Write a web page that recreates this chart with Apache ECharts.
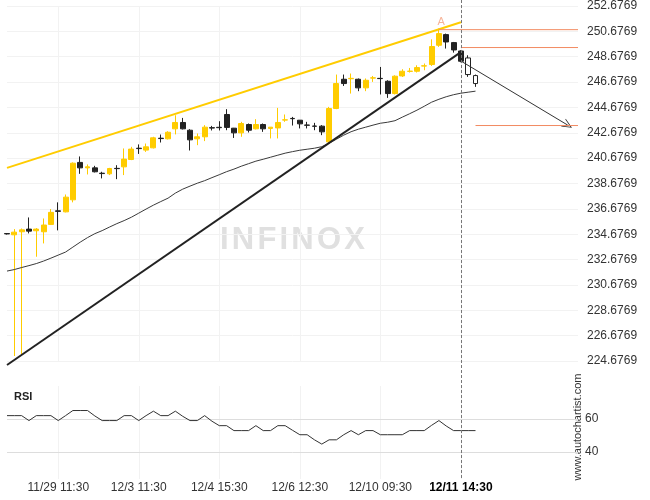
<!DOCTYPE html>
<html>
<head>
<meta charset="utf-8">
<script src="https://cdn.jsdelivr.net/npm/echarts@6/dist/echarts.min.js"></script>
<style>
html,body{margin:0;padding:0;background:#fff;}
#c{width:650px;height:500px;}
</style>
</head>
<body>
<div id="c"></div>
<script>
// ---- tick labels ----
const Y_BASE = 224.6769;            // lowest price tick label
const Y_STEP = 2;                   // price tick step
const Y_TICKS = 14;                 // number of steps up to 252.6769
const xLabelIdx = [7, 18, 29, 40, 51, 62];
const xLabels = ['11/29 11:30', '12/3 11:30', '12/4 15:30', '12/6 12:30', '12/10 09:30', '12/11 14:30'];
const SLOTS = 79;                   // bar slots on the time axis (incl. empty space on the right)

// ---- candles (price) ----
const open = [234.73,234.63,234.87,235.08,234.95,234.87,235.45,236.52,236.44,237.39,240.34,239.91,239.91,239.49,239.44,239.87,239.99,240.57,241.46,241.31,241.49,242.25,242.20,242.99,243.49,242.88,242.20,242.36,243.08,243.11,244.12,243.04,242.67,243.33,242.99,243.33,243.02,243.06,243.68,243.81,243.67,243.29,243.21,243.20,241.96,244.59,246.90,246.94,246.90,246.22,246.99,246.97,246.74,245.77,247.16,247.52,247.53,247.94,248.06,249.58,250.42,249.79,249.13];
const close = [234.70,234.84,235.02,234.92,235.08,235.40,236.40,236.48,237.60,240.28,239.91,239.99,239.60,239.46,239.86,239.85,240.60,241.39,241.43,241.57,242.28,242.22,242.72,243.49,242.99,242.12,242.36,243.12,243.05,243.08,243.10,242.67,243.41,242.88,243.33,242.99,243.12,243.49,243.70,243.79,243.38,243.27,243.19,242.75,244.59,246.56,246.56,246.97,246.22,246.82,247.01,246.95,245.77,247.14,247.53,247.54,247.82,247.96,249.48,250.50,249.84,249.21,248.32];
const low = [234.65,225.07,225.15,234.74,232.90,233.95,235.40,234.98,236.40,237.19,239.44,239.39,239.55,239.08,239.34,239.02,239.34,240.52,241.01,241.17,241.44,241.91,242.15,242.55,242.94,241.28,241.70,242.02,242.86,242.86,242.88,242.27,242.36,242.70,242.94,242.75,242.23,242.23,243.54,243.25,243.02,243.02,242.88,242.49,241.83,244.54,246.37,245.77,245.96,245.96,246.69,245.70,245.43,245.70,247.08,247.43,247.43,247.61,247.95,249.45,249.32,249.00,248.24];
const high = [234.76,235.08,235.13,236.00,235.16,235.92,236.66,237.19,237.81,240.34,240.81,240.18,240.07,239.60,239.91,240.12,241.44,241.57,241.76,241.83,242.36,242.54,242.80,244.06,243.85,242.96,242.62,243.28,243.22,243.59,244.54,243.06,243.54,243.41,243.75,243.41,243.12,244.64,244.12,243.93,243.67,243.54,243.46,243.28,244.72,247.27,247.27,247.35,246.96,246.96,247.16,247.87,246.82,247.21,247.69,247.79,248.00,248.14,250.05,250.90,250.50,249.84,249.19];
// projected (hollow) candles
const projOpen = [248.58, 247.19];
const projClose = [247.27, 246.56];
const projLow = [247.09, 246.30];
const projHigh = [248.79, 247.27];

// ---- moving average ----
const ma = [231.77,231.89,232.05,232.20,232.36,232.56,232.79,233.03,233.27,233.66,234.05,234.41,234.72,234.96,235.24,235.51,235.75,236.02,236.34,236.66,236.97,237.25,237.52,237.92,238.23,238.47,238.70,238.90,239.14,239.37,239.61,239.81,240.04,240.24,240.44,240.59,240.75,240.91,241.07,241.19,241.30,241.38,241.46,241.58,241.86,242.17,242.49,242.76,242.96,243.12,243.28,243.43,243.51,243.63,243.91,244.18,244.46,244.77,245.09,245.32,245.52,245.68,245.80,245.88,245.96];

// ---- RSI ----
const rsi = [62,62,62,59,62,62,62,59,62,65.1,65.1,65.1,61.8,59,59,59,62,62,59,62,64.7,62,62,64.7,61.6,59,59,62,58.6,55.9,55.9,52.9,52.9,52.9,55.9,52.9,52.9,55.9,55.9,53.1,50.4,50.4,47.3,44.7,47.3,47.3,50.4,52.9,50.4,52.9,52.9,50.4,50.4,50.4,50.4,52.9,52.9,52.9,56.1,59,55.7,52.9,52.9,52.9,52.9];
const rsiLevels = [60, 40];

// ---- pattern annotations (bar index, price) ----
const resistance = [[0, 239.91], [62, 251.40]];
const support = [[0, 224.36], [62, 249.04]];
const levelA = [[59, 250.81], [78, 250.81]];
const levelB = [[62, 249.40], [78, 249.40]];
const target = [[64, 243.25], [78, 243.25]];
const forecast = [[62, 248.34], [76.6, 243.28]];
const pointA = [59.3, 251.39];
const nowIdx = 62;

const s = v => v - Y_BASE;
const cats = Array.from({length: SLOTS}, (_, i) => String(i));
const FONT = 'Liberation Sans, Arial, sans-serif';
const YEL = '#FFCC00', BLK = '#222222', ORG = '#F28B62';

const candleData = open.map((o, i) => [s(o), s(close[i]), s(low[i]), s(high[i])]);
projOpen.forEach((o, k) => candleData.push({
  value: [s(o), s(projClose[k]), s(projLow[k]), s(projHigh[k])],
  itemStyle: {color: '#ffffff', color0: '#ffffff', borderColor: BLK, borderColor0: BLK}
}));
const sp = arr => arr.map(p => [p[0], s(p[1])]);
const isLbl = i => xLabelIdx.indexOf(i) >= 0;

const chart = echarts.init(document.getElementById('c'), null, {renderer: 'canvas'});
const option = {
  animation: false,
  backgroundColor: '#ffffff',
  grid: [
    {left: 7, right: 72, top: 5.7, height: 355.3},
    {left: 7, right: 72, top: 386, height: 93}
  ],
  xAxis: [
    {type: 'category', gridIndex: 0, data: cats, boundaryGap: false,
     axisLine: {show: false}, axisTick: {show: false}, axisLabel: {show: false},
     splitLine: {show: true, interval: i => isLbl(i), lineStyle: {color: '#f2f2f2', width: 1}}},
    {type: 'category', gridIndex: 1, data: cats, boundaryGap: false,
     axisLine: {show: false}, axisTick: {show: false},
     splitLine: {show: true, interval: i => isLbl(i), lineStyle: {color: '#f2f2f2', width: 1}},
     axisLabel: {show: true, interval: i => isLbl(i), margin: 3, fontSize: 12, color: '#333', fontFamily: FONT,
       formatter: (v, i) => { const k = xLabelIdx.indexOf(Number(v)); return k === xLabels.length - 1 ? '{b|' + xLabels[k] + '}' : (k >= 0 ? xLabels[k] : ''); },
       rich: {b: {fontWeight: 'bold', color: '#000', fontSize: 12, fontFamily: FONT}}}},
    {type: 'value', gridIndex: 0, min: 0, max: SLOTS - 1, show: false}
  ],
  yAxis: [
    {type: 'value', gridIndex: 0, position: 'right', min: 0, max: Y_STEP * Y_TICKS, interval: Y_STEP,
     axisLine: {show: false}, axisTick: {show: false},
     axisLabel: {margin: 9, fontSize: 12, color: '#333', fontFamily: FONT, formatter: v => (v + Y_BASE).toFixed(4)},
     splitLine: {show: true, lineStyle: {color: '#f2f2f2', width: 1}}},
    {type: 'value', gridIndex: 1, position: 'right', min: 23.5, max: 80, show: false, splitLine: {show: false}}
  ],
  series: [
    {type: 'line', xAxisIndex: 2, yAxisIndex: 0, data: sp(resistance), symbol: 'none', silent: true,
     lineStyle: {color: YEL, width: 2}, z: 3},
    {type: 'candlestick', xAxisIndex: 0, yAxisIndex: 0, data: candleData, barWidth: 5.4,
     itemStyle: {color: YEL, color0: BLK, borderColor: YEL, borderColor0: BLK, borderWidth: 1}, z: 4},
    {type: 'line', xAxisIndex: 0, yAxisIndex: 0, data: ma.map(s), symbol: 'none', silent: true,
     lineStyle: {color: '#3a3a3a', width: 1}, z: 5},
    {type: 'line', xAxisIndex: 2, yAxisIndex: 0, data: sp(support), symbol: 'none', silent: true, clip: false,
     lineStyle: {color: BLK, width: 2}, z: 6},
    {type: 'line', xAxisIndex: 2, yAxisIndex: 0, data: sp(levelA), symbol: 'none', silent: true,
     lineStyle: {color: ORG, width: 1}, z: 6},
    {type: 'line', xAxisIndex: 2, yAxisIndex: 0, data: sp(levelB), symbol: 'none', silent: true,
     lineStyle: {color: ORG, width: 1}, z: 6},
    {type: 'line', xAxisIndex: 2, yAxisIndex: 0, data: sp(target), symbol: 'none', silent: true,
     lineStyle: {color: ORG, width: 1}, z: 6},
    {type: 'line', xAxisIndex: 2, yAxisIndex: 0, data: [], silent: true, z: 7,
     markLine: {silent: true, symbol: ['none', 'path://M0,10L5,0L10,10L9,10L5,2L1,10Z'], symbolSize: [9, 10],
       label: {show: false}, lineStyle: {color: '#333', width: 1, type: 'solid'},
       emphasis: {disabled: true},
       data: [[{coord: [forecast[0][0], s(forecast[0][1])]}, {coord: [forecast[1][0], s(forecast[1][1])]}]]}},
    {type: 'scatter', xAxisIndex: 2, yAxisIndex: 0, data: [[pointA[0], s(pointA[1])]], symbolSize: 1, silent: true,
     itemStyle: {color: 'rgba(0,0,0,0)'},
     label: {show: true, position: 'inside', formatter: 'A', color: '#F4A07E', fontSize: 11, fontFamily: FONT}},
    {type: 'line', xAxisIndex: 1, yAxisIndex: 1, data: rsi, symbol: 'none', silent: true,
     lineStyle: {color: '#333', width: 1}, z: 5,
     markLine: {silent: true, symbol: 'none', lineStyle: {color: '#dddddd', width: 1, type: 'solid'},
       label: {show: true, position: 'end', distance: 7, color: '#333', fontSize: 12, fontFamily: FONT, formatter: p => String(p.value)},
       data: rsiLevels.map(v => ({yAxis: v}))}}
  ]
};
chart.setOption(option);

// watermark letters with wide tracking
const WM = 'INFINOX';
const wmW = {I: 8.6, N: 22.4, F: 18.9, O: 24.1, X: 20.7};
let wx = 220;
const wmGraphics = [];
for (const ch of WM) {
  wmGraphics.push({type: 'text', x: wx, y: 240, z: -1, silent: true,
    style: {text: ch, fill: '#e0e0e0', font: 'bold 31px ' + FONT, verticalAlign: 'middle'}});
  wx += wmW[ch] + 3.2;
}

const xNow = chart.convertToPixel({xAxisIndex: 2}, nowIdx);
chart.setOption({
  graphic: wmGraphics.concat([
    {type: 'text', left: 14, top: 391, silent: true,
     style: {text: 'RSI', fill: '#222', font: 'bold 11px ' + FONT}},
    {type: 'text', x: 578, y: 427, rotation: Math.PI / 2, silent: true,
     style: {text: 'www.autochartist.com', fill: '#333', font: '11px ' + FONT, align: 'center', verticalAlign: 'middle'}},
    {type: 'line', silent: true, z: 10,
     shape: {x1: Math.round(xNow) + 0.5, y1: 0, x2: Math.round(xNow) + 0.5, y2: 479},
     style: {stroke: '#777', lineWidth: 1, lineDash: [3, 2]}}
  ])
});
</script>
</body>
</html>
